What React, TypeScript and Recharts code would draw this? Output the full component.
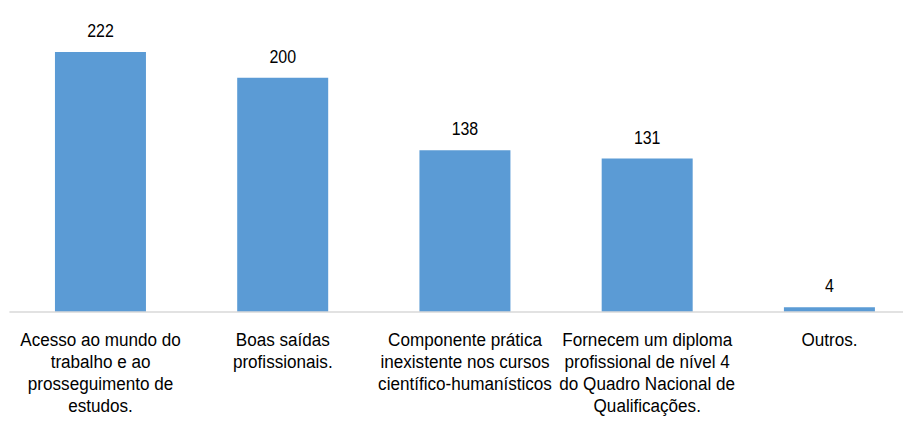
import { Bar, BarChart, LabelList, XAxis, YAxis } from "recharts";

const categories = ["Acesso", "Boas", "Componente", "Fornecem", "Outros"];
const counts = [222, 200, 138, 131, 4];
const tickLines = [
    ["Acesso ao mundo do", "trabalho e ao", "prosseguimento de", "estudos."],
    ["Boas saídas", "profissionais."],
    ["Componente prática", "inexistente nos cursos", "científico-humanísticos"],
    ["Fornecem um diploma", "profissional de nível 4", "do Quadro Nacional de", "Qualificações."],
    ["Outros."],
];

const data = categories.map((c, i) => ({ cat: c, value: counts[i], idx: i }));

const FONT = "'Liberation Sans', Arial, sans-serif";

// the original uses a narrow face; squeeze Liberation Sans horizontally
function CategoryTick(props: any) {
    const { x, y, index } = props;
    const lines = tickLines[index] || [];
    return (
        <g transform={`translate(${x},${y + 34}) scale(0.9,1)`}>
            <text x={0} y={0} textAnchor="middle" fontFamily={FONT} fontSize={19} fill="#000">
                {lines.map((l, i) => (
                    <tspan key={i} x={0} dy={i === 0 ? 0 : 22}>
                        {l}
                    </tspan>
                ))}
            </text>
        </g>
    );
}

function ValueLabel(props: any) {
    const { x, y, width, value } = props;
    const cx = Number(x) + Number(width) / 2;
    return (
        <g transform={`translate(${cx},${Number(y) - 15}) scale(0.84,1)`}>
            <text x={0} y={0} textAnchor="middle" fontFamily={FONT} fontSize={19} fill="#000">
                {value}
            </text>
        </g>
    );
}

export default function App() {
    return (
        <div style={{ position: "absolute", left: 0, top: 0, width: 903, height: 422, overflow: "hidden", background: "#fff" }}>
            <BarChart
                width={921}
                height={422}
                data={data}
                margin={{ top: 19.2, right: 0.4, left: 9.4, bottom: 0 }}
                barCategoryGap="25%"
            >
                <XAxis
                    dataKey="cat"
                    height={110}
                    tickLine={false}
                    tickSize={0}
                    tickMargin={0}
                    axisLine={{ stroke: "#d9d9d9", strokeWidth: 1.5 }}
                    tick={<CategoryTick />}
                    interval={0}
                />
                <YAxis hide domain={[0, 250]} />
                <Bar dataKey="value" fill="#5b9bd5" isAnimationActive={false}>
                    <LabelList dataKey="value" content={<ValueLabel />} />
                </Bar>
            </BarChart>
        </div>
    );
}
